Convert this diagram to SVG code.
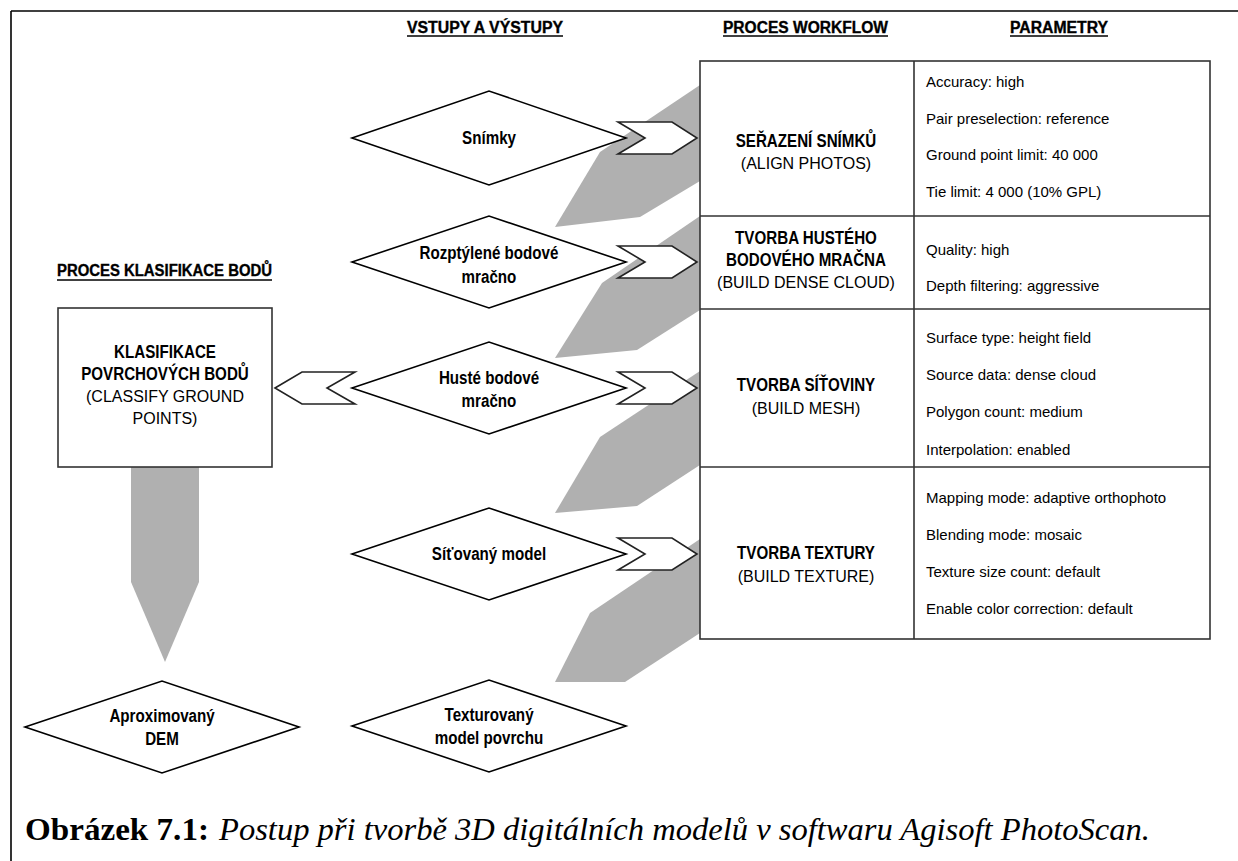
<svg xmlns="http://www.w3.org/2000/svg" width="1238" height="861" viewBox="0 0 1238 861">
<style>
text{font-family:"Liberation Sans",Arial,sans-serif;fill:#000}
.hd{font-weight:bold;font-size:16px;stroke:#000;stroke-width:.35}
.nb{font-weight:bold;font-size:18.5px;text-anchor:middle;transform-box:fill-box;transform-origin:center;transform:scaleX(.82)}
.en{font-size:16px;text-anchor:middle}
.pr{font-size:15px}
.cap{font-family:"Liberation Serif","Times New Roman",serif;font-size:31px}
.dia{fill:#fff;stroke:#000;stroke-width:1.6}
.chev{fill:#fff;stroke:#222;stroke-width:1.6;stroke-linejoin:miter}
.gray{fill:#b0b0b0;stroke:none}
.tb{fill:#fff;stroke:#333;stroke-width:1.6}
.ln{stroke:#333;stroke-width:1.6}
.ul{stroke:#000;stroke-width:1.5}
</style>
<rect width="1238" height="861" fill="#fff"/>
<g id="frame">
<line x1="11" y1="11" x2="1238" y2="11" stroke="#000" stroke-width="1.6"/>
<line x1="11" y1="11" x2="11" y2="861" stroke="#000" stroke-width="1.6"/>
</g>
<g id="headings">
<text class="hd" x="407" y="33" textLength="156" lengthAdjust="spacingAndGlyphs">VSTUPY A VÝSTUPY</text>
<line class="ul" x1="407" y1="36" x2="563" y2="36"/>
<text class="hd" x="723" y="33" textLength="165" lengthAdjust="spacingAndGlyphs">PROCES WORKFLOW</text>
<line class="ul" x1="723" y1="36" x2="888" y2="36"/>
<text class="hd" x="1010" y="33" textLength="98" lengthAdjust="spacingAndGlyphs">PARAMETRY</text>
<line class="ul" x1="1010" y1="36" x2="1108" y2="36"/>
<text class="hd" x="57" y="276" textLength="215" lengthAdjust="spacingAndGlyphs">PROCES KLASIFIKACE BODŮ</text>
<line class="ul" x1="57" y1="280" x2="272" y2="280"/>
</g>
<g id="connectors">
<polygon class="gray" points="700,85 600,152 555,227 640,217 700,181"/>
<polygon class="gray" points="700,216 602,283 555,358 637,350 700,310"/>
<polygon class="gray" points="700,371 600,437 555,513 637,506 700,465"/>
<polygon class="gray" points="700,539 590,613 555,682 625,682 700,633"/>
<polygon class="gray" points="131,467 199,467 199,582 165,662 131,582"/>
<polygon class="chev" points="618,122 672,122 697,138 672,154 618,154 645,138"/>
<polygon class="chev" points="618,246 672,246 697,262 672,278 618,278 645,262"/>
<polygon class="chev" points="618,372 672,372 697,388 672,404 618,404 645,388"/>
<polygon class="chev" points="618,538 672,538 697,554 672,570 618,570 645,554"/>
<polygon class="chev" points="275,388 302,372 355,372 327,388 355,404 302,404"/>
</g>
<g id="table">
<rect class="tb" x="700" y="61" width="510" height="578"/>
<line class="ln" x1="914" y1="61" x2="914" y2="639"/>
<line class="ln" x1="700" y1="216" x2="1210" y2="216"/>
<line class="ln" x1="700" y1="309" x2="1210" y2="309"/>
<line class="ln" x1="700" y1="467" x2="1210" y2="467"/>
</g>
<g id="align-photos">
<text class="nb" x="806" y="147">SEŘAZENÍ SNÍMKŮ</text>
<text class="en" x="806" y="169">(ALIGN PHOTOS)</text>
<text class="pr" x="926" y="87">Accuracy: high</text>
<text class="pr" x="926" y="124">Pair preselection: reference</text>
<text class="pr" x="926" y="160">Ground point limit: 40 000</text>
<text class="pr" x="926" y="197">Tie limit: 4 000 (10% GPL)</text>
</g>
<g id="dense-cloud">
<text class="nb" x="806" y="244">TVORBA HUSTÉHO</text>
<text class="nb" x="806" y="266">BODOVÉHO MRAČNA</text>
<text class="en" x="806" y="288">(BUILD DENSE CLOUD)</text>
<text class="pr" x="926" y="255">Quality: high</text>
<text class="pr" x="926" y="291">Depth filtering: aggressive</text>
</g>
<g id="build-mesh">
<text class="nb" x="806" y="391">TVORBA SÍŤOVINY</text>
<text class="en" x="806" y="414">(BUILD MESH)</text>
<text class="pr" x="926" y="343">Surface type: height field</text>
<text class="pr" x="926" y="380">Source data: dense cloud</text>
<text class="pr" x="926" y="417">Polygon count: medium</text>
<text class="pr" x="926" y="455">Interpolation: enabled</text>
</g>
<g id="build-texture">
<text class="nb" x="806" y="559">TVORBA TEXTURY</text>
<text class="en" x="806" y="582">(BUILD TEXTURE)</text>
<text class="pr" x="926" y="503">Mapping mode: adaptive orthophoto</text>
<text class="pr" x="926" y="540">Blending mode: mosaic</text>
<text class="pr" x="926" y="577">Texture size count: default</text>
<text class="pr" x="926" y="614">Enable color correction: default</text>
</g>
<g id="klasifikace">
<rect class="tb" x="58" y="308" width="214" height="159" stroke="#222"/>
<text class="nb" x="165" y="358">KLASIFIKACE</text>
<text class="nb" x="165" y="380">POVRCHOVÝCH BODŮ</text>
<text class="en" x="165" y="402">(CLASSIFY GROUND</text>
<text class="en" x="165" y="424">POINTS)</text>
</g>
<g id="snimky">
<polygon class="dia" points="352,138 489,91 626,138 489,185"/>
<text class="nb" x="489" y="144">Snímky</text>
</g>
<g id="rozptylene">
<polygon class="dia" points="352,262 489,216 626,262 489,308"/>
<text class="nb" x="489" y="259">Rozptýlené bodové</text>
<text class="nb" x="489" y="283">mračno</text>
</g>
<g id="huste">
<polygon class="dia" points="352,388 489,342 626,388 489,434"/>
<text class="nb" x="489" y="384">Husté bodové</text>
<text class="nb" x="489" y="407">mračno</text>
</g>
<g id="sitovany">
<polygon class="dia" points="352,554 489,508 626,554 489,600"/>
<text class="nb" x="489" y="560">Síťovaný model</text>
</g>
<g id="texturovany">
<polygon class="dia" points="352,726 489,680 626,726 489,772"/>
<text class="nb" x="489" y="721">Texturovaný</text>
<text class="nb" x="489" y="744">model povrchu</text>
</g>
<g id="aproximovany">
<polygon class="dia" points="25,727 162,681 299,727 162,773"/>
<text class="nb" x="162" y="722">Aproximovaný</text>
<text class="nb" x="162" y="745">DEM</text>
</g>
<g id="caption">
<text class="cap" x="25" y="840" font-weight="bold" textLength="184" lengthAdjust="spacingAndGlyphs">Obrázek 7.1:</text>
<text class="cap" x="219" y="840" font-style="italic" textLength="931" lengthAdjust="spacingAndGlyphs">Postup při tvorbě 3D digitálních modelů v softwaru Agisoft PhotoScan.</text>
</g>
</svg>
